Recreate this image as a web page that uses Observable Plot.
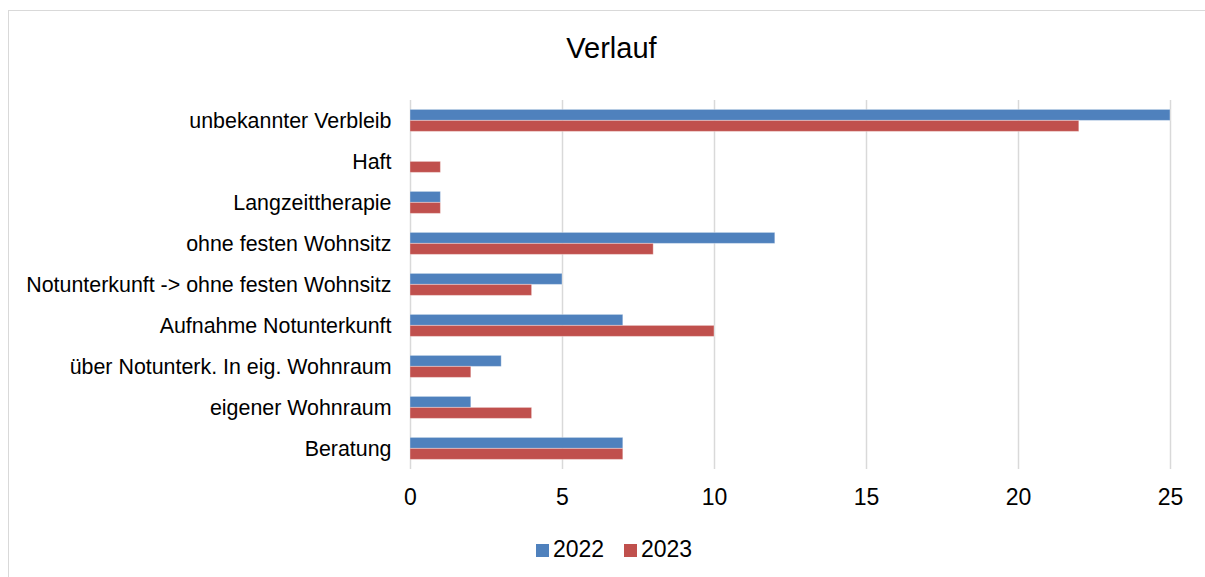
<!DOCTYPE html>
<html><head><meta charset="utf-8">
<script src="https://cdn.jsdelivr.net/npm/d3@7"></script>
<script src="https://cdn.jsdelivr.net/npm/@observablehq/plot@0.6"></script>
<style>
body{margin:0;background:#fff;font-family:"Liberation Sans",Arial,sans-serif;}
#wrap{position:relative;width:1205px;height:577px;overflow:hidden;}
#frame{position:absolute;left:8px;top:10px;width:1300px;height:700px;border:1.5px solid #d9d9d9;}
#title{position:absolute;left:0;width:1223px;top:34px;text-align:center;font-size:29px;line-height:29px;color:#000;}
#chart{position:absolute;left:0;top:0;}
.sw{position:absolute;width:13px;height:13px;top:544px;}
.lt{position:absolute;top:537.8px;font-size:23px;line-height:23px;color:#000;}
</style></head>
<body>
<div id="wrap">
  <div id="frame"></div>
  <div id="title">Verlauf</div>
  <div id="chart"></div>
  <div id="legend"></div>
</div>
<script>
const categories = ["unbekannter Verbleib","Haft","Langzeittherapie","ohne festen Wohnsitz","Notunterkunft -> ohne festen Wohnsitz","Aufnahme Notunterkunft","über Notunterk. In eig. Wohnraum","eigener Wohnraum","Beratung"];
const years = ["2022","2023"];
const values2022 = [25,0,1,12,5,7,3,2,7];
const values2023 = [22,1,1,8,4,10,2,4,7];
const xTicks = [0,5,10,15,20,25];
const colors = ["#4F81BD","#C0504D"];

const data = [];
categories.forEach((c,i) => {
  data.push({category:c, year:years[0], value:values2022[i]});
  data.push({category:c, year:years[1], value:values2023[i]});
});

const plot = Plot.plot({
  width: 1205, height: 577,
  marginTop: 97.6, marginBottom: 106.3, marginLeft: 410, marginRight: 35,
  style: {fontFamily: "'Liberation Sans', Arial, sans-serif", fontSize: "21.4px", color: "#000", background: "transparent"},
  x: {domain: [0,25], ticks: xTicks, tickSize: 0, tickPadding: 19.5, label: null},
  y: {domain: years, paddingInner: 0, paddingOuter: 0.86, axis: null},
  fy: {domain: categories, padding: 0, label: null, tickSize: 0, tickPadding: 19, axis: "left"},
  color: {domain: years, range: colors},
  marks: [
    Plot.ruleX(xTicks, {stroke: "#d9d9d9", strokeWidth: 1.5}),
    Plot.barX(data.filter(d => d.value > 0), {x: "value", y: "year", fy: "category", fill: "year", stroke: "#ffffff", strokeOpacity: 0.35, strokeWidth: 1})
  ]
});
d3.select(plot).selectAll('[aria-label="x-axis tick label"]').attr("font-size", 23);
document.getElementById("chart").appendChild(plot);

const lg = document.getElementById("legend");
const swX = [536, 624], txX = [553, 641];
years.forEach((y,i) => {
  const s = document.createElement("div"); s.className = "sw"; s.style.left = swX[i] + "px"; s.style.background = colors[i]; lg.appendChild(s);
  const t = document.createElement("div"); t.className = "lt"; t.style.left = txX[i] + "px"; t.textContent = y; lg.appendChild(t);
});
</script>
</body></html>
